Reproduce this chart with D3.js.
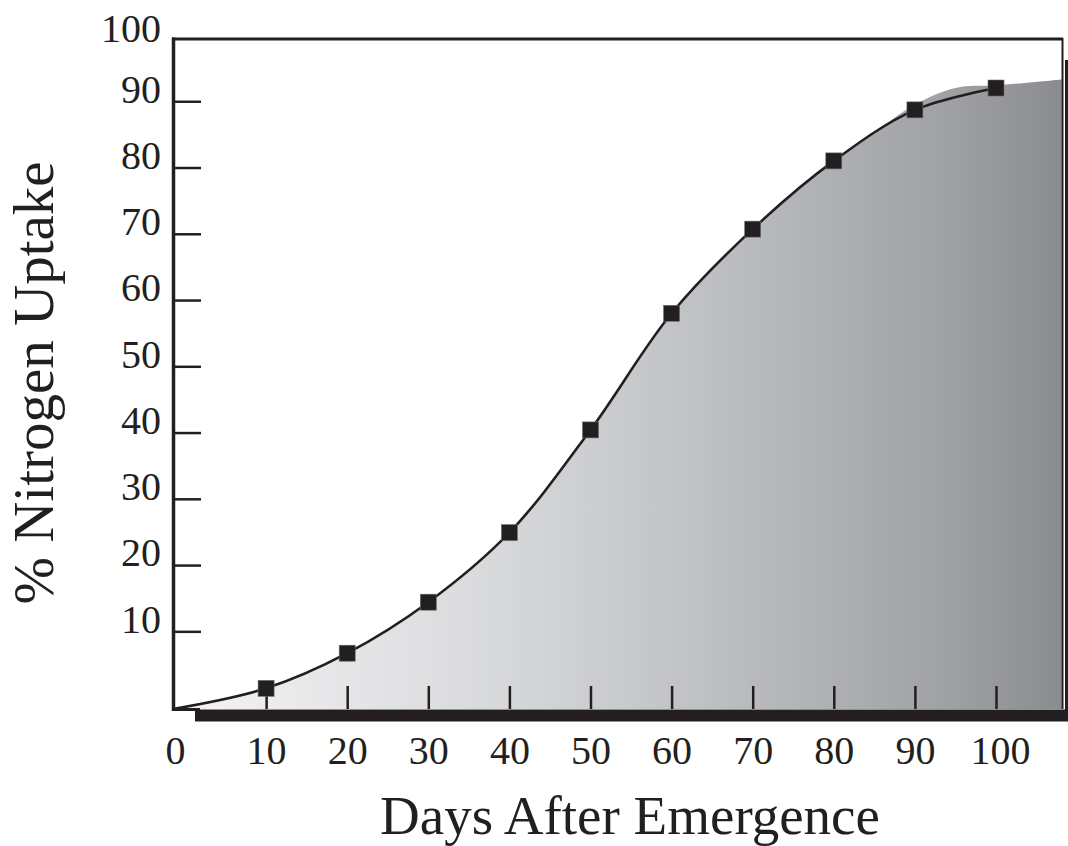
<!DOCTYPE html>
<html>
<head>
<meta charset="utf-8">
<script src="https://cdn.jsdelivr.net/npm/d3@7"></script>
<style>
  html, body { margin: 0; padding: 0; background: #ffffff; }
  svg { display: block; }
  text { font-family: "Liberation Serif", "DejaVu Serif", serif; fill: #231f20; }
</style>
</head>
<body>
<svg id="chart" width="1068" height="846"></svg>
<script>
// ---- data ----
const days = [10, 20, 30, 40, 50, 60, 70, 80, 90, 100];
const uptake = [1.4, 6.7, 14.4, 24.9, 40.4, 58.0, 70.7, 81.0, 88.7, 92.0];
// upper edge of the shaded region where it separates from the curve
const fillDays = [85, 90, 95, 100, 108.1];
const fillUptake = [85.3, 89.5, 92.0, 92.4, 93.3];
const xTicks = [0, 10, 20, 30, 40, 50, 60, 70, 80, 90, 100];
const yTicks = [10, 20, 30, 40, 50, 60, 70, 80, 90, 100];
const xTitle = "Days After Emergence";
const yTitle = "% Nitrogen Uptake";

// ---- layout ----
const W = 1068, H = 846;
const frame = { left: 173, right: 1062, top: 38, bottom: 709 };
const ink = "#231f20";

const svg = d3.select("#chart");

const x = d3.scaleLinear().domain([0, 100]).range([185, 996]);
const y = d3.scaleLinear().domain([0, 100]).range([697.6, 35]);

// gradient
const defs = svg.append("defs");
const grad = defs.append("linearGradient")
  .attr("id", "g").attr("gradientUnits", "userSpaceOnUse")
  .attr("x1", frame.left).attr("x2", frame.right).attr("y1", 0).attr("y2", 0);
[[0, "#f4f4f5"], [0.35, "#d9dadc"], [0.6, "#bfc0c3"], [0.87, "#a0a1a5"], [1, "#8b8c90"]]
  .forEach(([o, c]) => grad.append("stop").attr("offset", o).attr("stop-color", c));

const curve = d3.curveCatmullRom.alpha(0.5);

// curve points: start at the frame origin, then the measured points
const lineData = [[frame.left, frame.bottom]].concat(days.map((d, i) => [x(d), y(uptake[i])]));
const areaTop = [[frame.left, frame.bottom]]
  .concat(days.filter(d => d <= 80).map((d, i) => [x(d), y(uptake[i])]))
  .concat(fillDays.map((d, i) => [x(d), y(fillUptake[i])]));

// shaded area
svg.append("path")
  .attr("d", d3.area().x(p => p[0]).y0(frame.bottom).y1(p => p[1]).curve(curve)(areaTop))
  .attr("fill", "url(#g)");

// shadow bars (bottom and right)
svg.append("rect").attr("x", 195).attr("y", frame.bottom + 0.5)
  .attr("width", W - 195 + 10).attr("height", 12).attr("fill", ink);
svg.append("rect").attr("x", frame.right + 3).attr("y", 60)
  .attr("width", 12).attr("height", frame.bottom + 12 - 60).attr("fill", ink);

// frame
svg.append("line").attr("x1", frame.left - 1).attr("x2", frame.right + 1)
  .attr("y1", frame.top + 1).attr("y2", frame.top + 1)
  .attr("stroke", ink).attr("stroke-width", 3);
svg.append("line").attr("x1", frame.left + 0.5).attr("x2", frame.left + 0.5)
  .attr("y1", frame.top - 0.5).attr("y2", frame.bottom + 2)
  .attr("stroke", ink).attr("stroke-width", 3.5);
svg.append("line").attr("x1", frame.right + 0.5).attr("x2", frame.right + 0.5)
  .attr("y1", frame.top).attr("y2", frame.bottom)
  .attr("stroke", ink).attr("stroke-width", 2);
svg.append("line").attr("x1", frame.left - 1).attr("x2", 200)
  .attr("y1", frame.bottom + 0.5).attr("y2", frame.bottom + 0.5)
  .attr("stroke", ink).attr("stroke-width", 3);

// y axis
const yAxis = svg.append("g").attr("transform", `translate(${frame.left},0)`)
  .call(d3.axisLeft(y).tickValues(yTicks).tickSizeInner(-28).tickSizeOuter(0).tickPadding(12));
yAxis.select(".domain").remove();
yAxis.selectAll(".tick line").attr("stroke", ink).attr("stroke-width", 2.5)
  .filter(d => d === 100).remove();
yAxis.selectAll(".tick text")
  .attr("dy", d => d === 100 ? "0.17em" : "0.02em")
  .attr("font-size", 40).attr("fill", ink);

// x axis
const xAxis = svg.append("g").attr("transform", `translate(0,${frame.bottom})`)
  .call(d3.axisBottom(x).tickValues(xTicks).tickSizeInner(-23).tickSizeOuter(0).tickPadding(55));
xAxis.select(".domain").remove();
xAxis.selectAll(".tick line").attr("stroke", ink).attr("stroke-width", 2.5)
  .filter(d => d === 0).remove();
xAxis.selectAll(".tick text").attr("dy", 0).attr("font-size", 40).attr("fill", ink)
  .attr("dx", d => d === 0 ? -10 : (d === 100 ? 4 : 0));

// curve
svg.append("path")
  .attr("d", d3.line().curve(curve)(lineData))
  .attr("fill", "none").attr("stroke", ink).attr("stroke-width", 2.6);

// markers
const s = 16;
svg.append("g").selectAll("rect").data(days).join("rect")
  .attr("x", (d) => x(d) - s / 2)
  .attr("y", (d, i) => y(uptake[i]) - s / 2)
  .attr("width", s).attr("height", s)
  .attr("fill", ink).attr("stroke", "#6d6d70").attr("stroke-width", 0.6);

// titles
svg.append("text").attr("x", 630).attr("y", 834).attr("text-anchor", "middle")
  .attr("font-size", 55).text(xTitle);
svg.append("text").attr("transform", "translate(53,383) rotate(-90)")
  .attr("text-anchor", "middle").attr("font-size", 57).text(yTitle);
</script>
</body>
</html>
